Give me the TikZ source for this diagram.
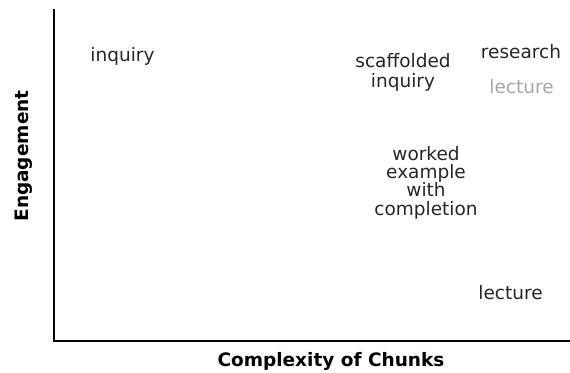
\documentclass[tikz,border=0pt]{standalone}
\usepackage{fontspec}
\setmainfont{DejaVu Sans}
\begin{document}
\begin{tikzpicture}[x=1pt,y=-1pt,
  lbl/.style={inner sep=0pt, anchor=base, align=center, text=black!85,
    font=\fontsize{18.5}{18.3}\selectfont},
  faint/.style={lbl, text=black!35},
  axislbl/.style={inner sep=0pt, anchor=base, font=\fontsize{18.5}{18.5}\selectfont\bfseries},
  axis/.style={line width=2.6pt, black}]
\useasboundingbox (0,0) rectangle (570,372);
\coordinate (top) at (54,9);
\coordinate (origin) at (54,341);
\coordinate (right) at (570,341);
\draw[axis] (top) -- (origin) -- (right);
\node[axislbl] (xl) at (331,366.5) {Complexity of Chunks};
\node[axislbl, rotate=90] (yl) at (28,156) {Engagement};
\node[lbl] (inq) at (122.5,61) {inquiry};
\node[lbl, font=\fontsize{18.5}{19.5}\selectfont] (scaf) at (403,87) {scaffolded\\inquiry};
\node[lbl] (res) at (521,58) {research};
\node[faint] (lec1) at (521.5,93) {lecture};
\node[lbl] (we) at (426,215) {worked\\example\\with\\completion};
\node[lbl] (lec2) at (510.5,299) {lecture};
\end{tikzpicture}
\end{document}
